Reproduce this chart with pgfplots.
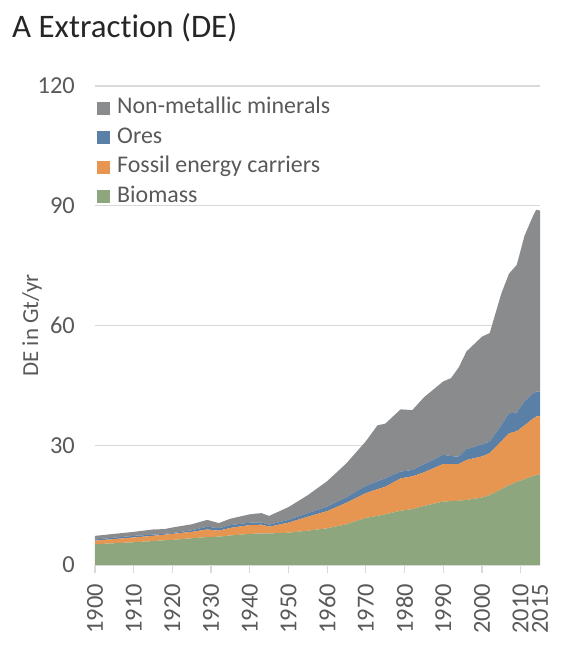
\documentclass[border=0pt]{standalone}
\usepackage{fontspec}
\setmainfont{Carlito}[Ligatures=NoCommon]
\usepackage{pgfplots}
\usepackage{pgfplotstable}
\pgfplotsset{compat=1.18}

\definecolor{cbio}{RGB}{142,166,126}
\definecolor{cfos}{RGB}{230,150,80}
\definecolor{core}{RGB}{90,128,168}
\definecolor{cnon}{RGB}{138,139,141}
\definecolor{ctxt}{RGB}{89,89,89}
\definecolor{cgrid}{RGB}{217,217,217}

% direct extraction by material group, Gt/yr
\pgfplotstableread{
year bio fos ore non
1900 5.2 0.9 0.3 0.9
1905 5.45 1.05 0.35 0.95
1910 5.7 1.2 0.4 1.0
1915 6.0 1.3 0.3 1.3
1918 6.2 1.4 0.2 1.2
1920 6.3 1.5 0.2 1.4
1925 6.7 1.6 0.4 1.5
1929 7.0 1.9 0.7 1.7
1932 7.1 1.5 0.6 1.3
1935 7.4 1.9 0.7 1.6
1940 7.8 2.2 0.6 2.1
1943 7.9 2.2 0.6 2.3
1945 7.9 1.7 0.5 2.2
1950 8.1 2.5 0.7 3.2
1955 8.6 3.5 0.9 4.5
1960 9.2 4.3 1.1 6.4
1965 10.2 5.4 1.4 8.5
1970 11.8 6.2 1.8 11.2
1973 12.3 6.7 2.0 14.0
1975 12.7 6.9 2.1 13.7
1979 13.6 8.1 1.7 15.6
1982 14.0 8.2 1.6 15.0
1985 14.8 8.4 2.0 16.8
1990 15.9 9.4 2.3 18.4
1992 16.0 9.3 2.0 19.5
1994 16.1 9.2 1.8 22.4
1996 16.3 10.0 2.7 24.5
2000 16.9 10.3 3.0 27.0
2002 17.5 10.5 2.9 27.2
2005 19.0 12.0 4.0 33.0
2007 20.0 13.0 5.0 35.0
2009 20.8 12.7 4.7 37.0
2011 21.5 13.5 6.0 41.5
2013 22.2 14.3 6.3 44.2
2014 22.5 14.7 6.2 45.6
2015 22.7 14.6 6.2 45.3
}\detable

\begin{document}
\begin{tikzpicture}
\begin{axis}[
    name=ax,
    scale only axis,
    width=445bp, height=479bp,
    xmin=1900, xmax=2015,
    ymin=0, ymax=120,
    stack plots=y,
    axis x line*=bottom,
    axis y line*=left,
    x axis line style={cgrid, line width=1.2bp},
    y axis line style={draw=none},
    xtick={1900,1910,...,2010},
    extra x ticks={2015},
    extra x tick style={major tick style={draw=none}},
    ytick={0,30,...,120},
    ymajorgrids,
    major grid style={cgrid, line width=1.2bp},
    tick align=outside,
    major tick length=8bp,
    x tick style={cgrid, line width=1.2bp},
    y tick style={draw=none},
    /pgf/number format/assume math mode=true,
    /pgf/number format/1000 sep={},
    ticklabel style={font=\fontsize{24.5}{28}\selectfont, text=ctxt},
    xticklabel style={rotate=90, anchor=east, inner sep=0pt, xshift=-11bp},
    yticklabel style={anchor=east, inner sep=0pt, xshift=-12bp},
    ylabel={DE in Gt/yr},
    ylabel style={at={(axis description cs:-0.1416,0.5)}, anchor=center,
        font=\fontsize{23}{28}\selectfont, text=ctxt},
    legend style={at={(rel axis cs:0.0045,0.976)}, anchor=north west,
        draw=none, fill=none, inner sep=0pt, row sep=8.5bp, column sep=7bp,
        font=\fontsize{24}{28}\selectfont, text=ctxt,
        nodes={inner sep=0pt, text height=16bp, text depth=5bp}},
    legend cell align=left,
    reverse legend,
    legend image code/.code={\fill[#1] (0bp,-6.5bp) rectangle (13bp,6.5bp);},
]
\addplot[fill=cbio, draw=none] table[x=year, y=bio] {\detable} \closedcycle;
\addlegendentry{Biomass}
\addplot[fill=cfos, draw=none] table[x=year, y=fos] {\detable} \closedcycle;
\addlegendentry{Fossil energy carriers}
\addplot[fill=core, draw=none] table[x=year, y=ore] {\detable} \closedcycle;
\addlegendentry{Ores}
\addplot[fill=cnon, draw=none] table[x=year, y=non] {\detable} \closedcycle;
\addlegendentry{Non-metallic minerals}
\end{axis}
\node[anchor=base west, inner sep=0pt, font=\fontsize{33}{40}\selectfont, text=black!85]
    at ([xshift=-83bp, yshift=527.7bp]ax.south west) {A Extraction (DE)};
\pgfresetboundingbox
\path[use as bounding box] ([xshift=-95bp, yshift=-80bp]ax.south west)
    rectangle ([xshift=469bp, yshift=565bp]ax.south west);
\end{tikzpicture}
\end{document}
